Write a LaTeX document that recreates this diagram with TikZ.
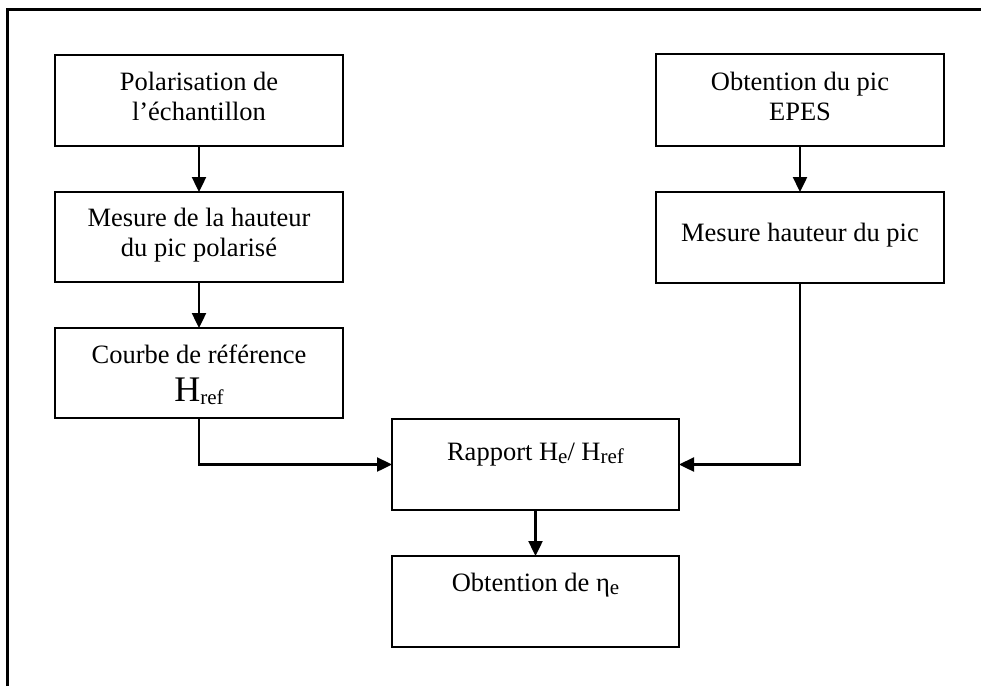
\documentclass[tikz,border=0pt]{standalone}
\usepackage{fontspec}
\setmainfont{Liberation Serif}
\usetikzlibrary{arrows.meta}
\newcommand\subtx[1]{\raisebox{-3pt}{\fontsize{21}{21}\selectfont #1}}
\begin{document}
\begin{tikzpicture}[x=1pt,y=-1pt,
  box/.style={draw,line width=2.4pt,minimum width=288pt,minimum height=91pt,inner sep=0pt,outer sep=0pt},
  txt/.style={anchor=base,inner sep=0pt,font=\fontsize{26.5}{30}\selectfont},
  conn/.style={line width=2.4pt,-{Triangle[length=15pt,width=14pt]}}]
\useasboundingbox (0,0) rectangle (981,686);
\draw[line width=3pt] (7.5,686) -- (7.5,9.5) -- (981,9.5);
% boxes
\node[box] (b1) at (199,100.5) {};
\node[box,minimum height=90pt] (b2) at (199,237) {};
\node[box,minimum height=90pt] (b3) at (199,373) {};
\node[box,minimum height=92pt] (r1) at (800,100) {};
\node[box] (r2) at (800,237.5) {};
\node[box,minimum width=287pt] (rap) at (535.5,464.5) {};
\node[box,minimum width=287pt] (obt) at (535.5,601.5) {};
% texts
\node[txt] (t1a) at (199,90.5) {Polarisation de};
\node[txt] (t1b) at (199,120) {l’échantillon};
\node[txt] (t2a) at (199,226.5) {Mesure de la hauteur};
\node[txt] (t2b) at (199,256) {du pic polarisé};
\node[txt] (t3a) at (199,363) {Courbe de référence};
\node[txt] (t3b) at (199,401.5) {{\fontsize{36}{36}\selectfont H}\subtx{ref}};
\node[txt] (r1a) at (800,90) {Obtention du pic};
\node[txt] (r1b) at (800,120) {EPES};
\node[txt] (r2a) at (800,241.5) {Mesure hauteur du pic};
\node[txt] (rapt) at (535.5,460) {Rapport H\subtx{e}/ H\subtx{ref}};
\node[txt] (obtt) at (535.5,591) {Obtention de η\subtx{e}};
% connectors
\draw[conn] (b1) -- (b2);
\draw[conn] (b2) -- (b3);
\draw[conn] (r1) -- (r2);
\draw[conn] (rap) -- (obt);
\draw[conn] (b3.south) |- (rap.west);
\draw[conn] (r2.south) |- (rap.east);
\end{tikzpicture}
\end{document}
